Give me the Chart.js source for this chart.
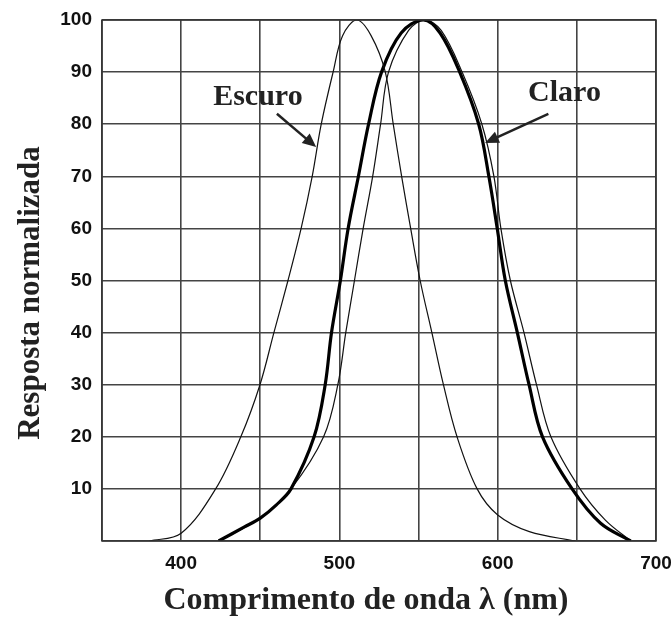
<!DOCTYPE html>
<html>
<head>
<meta charset="utf-8">
<script src="https://cdn.jsdelivr.net/npm/chart.js@4/dist/chart.umd.min.js"></script>
<style>
  html, body { margin: 0; padding: 0; background: #fff; }
</style>
</head>
<body>
<canvas id="chart" width="671" height="626"></canvas>
<script>
// scotopic (Escuro) - thin
const escuroX = [380, 400, 421.8, 437.7, 449.8, 458.6, 467.5, 475.8, 482.8, 488.5, 496, 502, 511, 520, 529, 534, 539.3, 545, 551, 558.4, 565.7, 574.3, 587, 600, 620, 649];
const escuroY = [0, 1.5, 10, 20, 30, 40, 50, 60, 70, 80, 90, 97, 100, 97, 90, 80, 70, 60, 50, 40, 30, 20, 10, 5, 1.8, 0];

// photopic (Claro) - thick
const claroX = [423.7, 440, 450, 460, 469.4, 484, 491, 495, 500.6, 505.5, 512, 518.4, 526.6, 539, 553, 563.6, 576, 588, 594.4, 599.7, 604.8, 612.4, 619.8, 628.3, 647, 665, 684];
const claroY = [0, 2.7, 4.4, 6.9, 10, 20, 30, 40, 50, 60, 70, 80, 90, 97.5, 100, 97.5, 90, 80, 70, 60, 50, 40, 30, 20, 10, 3.4, 0];

// second photopic curve - thin
const claro2X = [423.7, 450, 469.4, 490, 499, 504, 509.5, 515, 521, 526, 531, 543.7, 554, 564.3, 577.5, 590, 597.6, 602, 608, 616.6, 624.5, 633.6, 652, 668, 684];
const claro2Y = [0, 4.4, 10, 20, 30, 40, 50, 60, 70, 80, 90, 98, 100, 98, 90, 80, 70, 60, 50, 40, 30, 20, 10, 4, 0];

const xTicks = [400, 500, 600, 700];
const yTicks = [10, 20, 30, 40, 50, 60, 70, 80, 90, 100];

const toPts = (xs, ys) => xs.map((x, i) => ({ x: x, y: ys[i] }));

// text labels + arrows, in data coords
const notes = [
  { text: 'Escuro', at: [448.5, 85.2], from: [460.5, 82], to: [485.3, 75.6] },
  { text: 'Claro', at: [642.2, 86], from: [632, 82], to: [592, 76.4] }
];

const serif = '"Liberation Serif", "Times New Roman", serif';

function arrow(ctx, x1, y1, x2, y2) {
  const a = Math.atan2(y2 - y1, x2 - x1);
  const len = 15, w = 0.42;
  ctx.beginPath();
  ctx.moveTo(x1, y1);
  ctx.lineTo(x2 - Math.cos(a) * len * 0.8, y2 - Math.sin(a) * len * 0.8);
  ctx.lineWidth = 2.5;
  ctx.stroke();
  ctx.beginPath();
  ctx.moveTo(x2, y2);
  ctx.lineTo(x2 - len * Math.cos(a - w), y2 - len * Math.sin(a - w));
  ctx.lineTo(x2 - len * Math.cos(a + w), y2 - len * Math.sin(a + w));
  ctx.closePath();
  ctx.fill();
}

const extras = {
  id: 'extras',
  afterDraw(chart) {
    const ctx = chart.ctx;
    const xs = chart.scales.x, ys = chart.scales.y;
    const area = chart.chartArea;

    // frame
    ctx.save();
    ctx.strokeStyle = '#333';
    ctx.lineWidth = 1.5;
    ctx.strokeRect(area.left, area.top, area.right - area.left, area.bottom - area.top);
    ctx.restore();

    ctx.save();
    ctx.fillStyle = '#222';
    ctx.strokeStyle = '#222';
    ctx.font = 'bold 30px ' + serif;
    ctx.textAlign = 'center';
    ctx.textBaseline = 'middle';
    notes.forEach(n => {
      ctx.fillText(n.text, xs.getPixelForValue(n.at[0]), ys.getPixelForValue(n.at[1]));
      arrow(ctx, xs.getPixelForValue(n.from[0]), ys.getPixelForValue(n.from[1]),
                 xs.getPixelForValue(n.to[0]), ys.getPixelForValue(n.to[1]));
    });

    // axis titles
    ctx.font = 'bold 32px ' + serif;
    ctx.fillText('Comprimento de onda \u03bb (nm)', 366, 601);
    ctx.translate(31, 293);
    ctx.rotate(-Math.PI / 2);
    ctx.font = 'bold 31px ' + serif;
    ctx.fillText('Resposta normalizada', 0, 0);
    ctx.restore();
  }
};

const tickFont = { family: '"Liberation Sans", Arial, sans-serif', size: 19, weight: 'bold' };

new Chart(document.getElementById('chart'), {
  type: 'line',
  data: {
    datasets: [
      { data: toPts(escuroX, escuroY), borderColor: '#111', borderWidth: 1.2 },
      { data: toPts(claroX, claroY), borderColor: '#000', borderWidth: 3.2 },
      { data: toPts(claro2X, claro2Y), borderColor: '#111', borderWidth: 1.2 }
    ]
  },
  options: {
    responsive: false,
    animation: false,
    devicePixelRatio: 1,
    layout: { padding: { left: 0, right: 15, top: 20, bottom: 0 } },
    elements: {
      point: { radius: 0 },
      line: { tension: 0.35, fill: false }
    },
    plugins: { legend: { display: false }, tooltip: { enabled: false } },
    scales: {
      x: {
        type: 'linear',
        min: 350,
        max: 700,
        afterFit: s => { s.height = 85; s.paddingLeft = 0; s.paddingRight = 0; },
        afterBuildTicks: s => { s.ticks = [350, 400, 450, 500, 550, 600, 650, 700].map(v => ({ value: v })); },
        ticks: {
          autoSkip: false,
          maxRotation: 0,
          padding: 11,
          color: '#111',
          font: tickFont,
          callback: v => xTicks.includes(v) ? String(v) : ''
        },
        grid: { color: '#444', lineWidth: 1.6, drawTicks: false },
        border: { display: false }
      },
      y: {
        min: 0,
        max: 100,
        afterFit: s => { s.width = 102; s.paddingTop = 0; s.paddingBottom = 0; },
        afterBuildTicks: s => { s.ticks = [0].concat(yTicks).map(v => ({ value: v })); },
        ticks: {
          padding: 10,
          color: '#111',
          font: tickFont,
          callback: v => yTicks.includes(v) ? String(v) : ''
        },
        grid: { color: '#444', lineWidth: 1.6, drawTicks: false },
        border: { display: false }
      }
    }
  },
  plugins: [extras]
});
</script>
</body>
</html>
